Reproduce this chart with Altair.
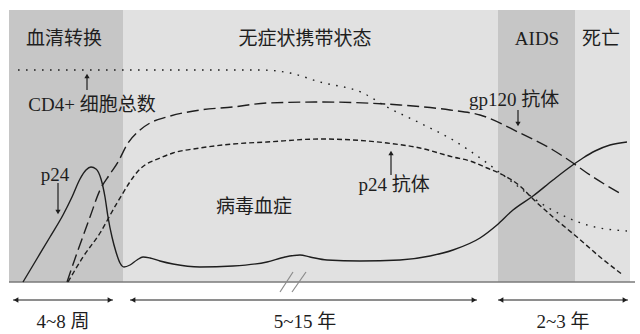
import altair as alt
import pandas as pd

W, H = 640, 334
FONT = "Liberation Serif, Noto Sans CJK SC"
INK = "#1e1e1e"

# ---- stage bands (time units, level units) ----
stage_start = [9, 123, 498, 575]
stage_end = [123, 498, 575, 630]
stage_fill = ["#c6c6c6", "#e1e1e1", "#c6c6c6", "#e1e1e1"]
stage_names = ["血清转换", "无症状携带状态", "AIDS", "死亡"]
stage_label_x = [64, 305, 537, 601]
panel_top = 272
header_level = 243

# ---- curves (time, level) ----
cd4_x = [18, 100, 200, 260, 290, 320, 363, 387, 420, 453, 487, 503, 547, 587, 627]
cd4_y = [212, 212, 212, 212, 209, 200, 189, 175, 159, 142, 119, 107, 75, 57, 51]

gp120_x = [67, 77, 90, 100, 110, 118, 128, 140, 150, 167, 200, 233, 267, 320, 400, 450, 480, 520, 553, 573, 587, 623]
gp120_y = [0, 29, 65, 92, 108, 120, 139, 152, 159, 165, 172, 175, 179, 180, 177, 172, 167, 149, 132, 119, 109, 87]

p24ab_x = [68, 83, 100, 117, 140, 160, 173, 200, 233, 267, 320, 387, 420, 453, 470, 487, 503, 520, 533, 553, 577, 600, 623]
p24ab_y = [0, 25, 49, 79, 113, 124, 129, 134, 138, 140, 143, 139, 134, 125, 121, 114, 107, 96, 83, 65, 45, 25, 7]

virus_x = [23, 35, 50, 63, 72, 80, 86, 91, 96, 101, 105, 108, 112, 116, 120, 124, 130, 137, 143, 150, 160, 173,
           200, 233, 267, 285, 300, 310, 327, 360, 400, 430, 453, 480, 497, 513, 533, 553, 570, 583, 595, 610, 627]
virus_y = [0, 20, 45, 67, 85, 103, 112, 115, 113, 103, 85, 65, 45, 30, 19, 15, 17, 22, 25, 24, 21, 18,
           15, 16, 20, 25, 27, 25, 22, 21, 22, 26, 32, 44, 57, 72, 86, 102, 115, 124, 131, 137, 140]

# ---- labels ----
label_text = ["CD4+ 细胞总数", "gp120 抗体", "p24 抗体", "p24", "病毒血症", "4~8 周", "5~15 年", "2~3 年"]
label_x = [92, 514, 394, 55, 254, 63, 305, 563]
label_y = [177, 182, 97, 107, 75, -40, -40, -40]

# ---- annotation arrows (vertical): x, tail level, tip level ----
ann_x = [87, 518, 391, 58]
ann_tail = [192, 172, 107, 99]
ann_tip = [206, 158, 129, 70]
ann_head = ["triangle-up", "triangle-down", "triangle-up", "triangle-down"]

# ---- period arrows (horizontal) ----
per_start = [13, 130, 498]
per_end = [113, 477, 628]
per_level = -18

# ---- axis break marks ----
brk_x1 = [280, 292]
brk_x2 = [293, 306]
brk_y1 = [-10, -10]
brk_y2 = [10, 10]

xs = alt.Scale(domain=[0, W], nice=False, zero=False)
ys = alt.Scale(domain=[-52, H - 52], nice=False, zero=False)


def X(f):
    return alt.X(f, type="quantitative", scale=xs, axis=None)


def Y(f):
    return alt.Y(f, type="quantitative", scale=ys, axis=None)


stages = pd.DataFrame({"x": stage_start, "x2": stage_end, "fill": stage_fill,
                       "y": [0] * 4, "y2": [panel_top] * 4})
bands = alt.Chart(stages).mark_rect().encode(
    x=X("x"), x2="x2", y=Y("y"), y2="y2", color=alt.Color("fill:N", scale=None))

base_df = pd.DataFrame({"x": [9], "x2": [635], "y": [0]})
baseline = alt.Chart(base_df).mark_rule(color="#7a7a7a", strokeWidth=1.5).encode(
    x=X("x"), x2="x2", y=Y("y"))


def curve(xv, yv, dash):
    df = pd.DataFrame({"t": xv, "v": yv})
    kw = dict(color=INK, strokeWidth=1.4, interpolate="monotone")
    if dash:
        kw["strokeDash"] = dash
    return alt.Chart(df).mark_line(**kw).encode(x=X("t"), y=Y("v"), order="t:Q")


cd4 = curve(cd4_x, cd4_y, [1.6, 6.4])
gp120 = curve(gp120_x, gp120_y, [12, 5])
p24ab = curve(p24ab_x, p24ab_y, [5, 3])
virus = curve(virus_x, virus_y, None)

headers = alt.Chart(pd.DataFrame({"x": stage_label_x, "y": [header_level] * 4, "t": stage_names})).mark_text(
    font=FONT, fontSize=19, color=INK, align="center", baseline="middle").encode(x=X("x"), y=Y("y"), text="t:N")

labels = alt.Chart(pd.DataFrame({"x": label_x, "y": label_y, "t": label_text})).mark_text(
    font=FONT, fontSize=19, color=INK, align="center", baseline="middle").encode(x=X("x"), y=Y("y"), text="t:N")

ann_df = pd.DataFrame({"x": ann_x, "y": ann_tail, "y2": ann_tip, "shape": ann_head})
ann_shaft = alt.Chart(ann_df).mark_rule(color=INK, strokeWidth=1.2).encode(x=X("x"), y=Y("y"), y2="y2")
ann_heads = alt.Chart(ann_df).mark_point(filled=True, color=INK, size=28, opacity=1).encode(
    x=X("x"), y=Y("y2"), shape=alt.Shape("shape:N", scale=None))

per_df = pd.DataFrame({"x": per_start, "x2": per_end, "y": [per_level] * 3})
per_shaft = alt.Chart(per_df).mark_rule(color=INK, strokeWidth=1.2).encode(x=X("x"), x2="x2", y=Y("y"))
head_df = pd.DataFrame({
    "x": [s + 3 for s in per_start] + [e - 3 for e in per_end],
    "y": [per_level] * 6,
    "shape": ["triangle-left"] * 3 + ["triangle-right"] * 3})
per_heads = alt.Chart(head_df).mark_point(filled=True, color=INK, size=30, opacity=1).encode(
    x=X("x"), y=Y("y"), shape=alt.Shape("shape:N", scale=None))

brk_df = pd.DataFrame({"x": brk_x1, "x2": brk_x2, "y": brk_y1, "y2": brk_y2})
breaks = alt.Chart(brk_df).mark_rule(color="#8a8a8a", strokeWidth=1.2).encode(
    x=X("x"), x2="x2", y=Y("y"), y2="y2")

chart = alt.layer(
    bands, baseline, breaks, cd4, gp120, p24ab, virus,
    headers, labels, ann_shaft, ann_heads, per_shaft, per_heads
).properties(
    width=W, height=H, autosize=alt.AutoSizeParams(type="none"), padding=0, background="white"
).configure_view(stroke=None)

chart.save("out.html", embed_options={"renderer": "svg", "actions": False})
